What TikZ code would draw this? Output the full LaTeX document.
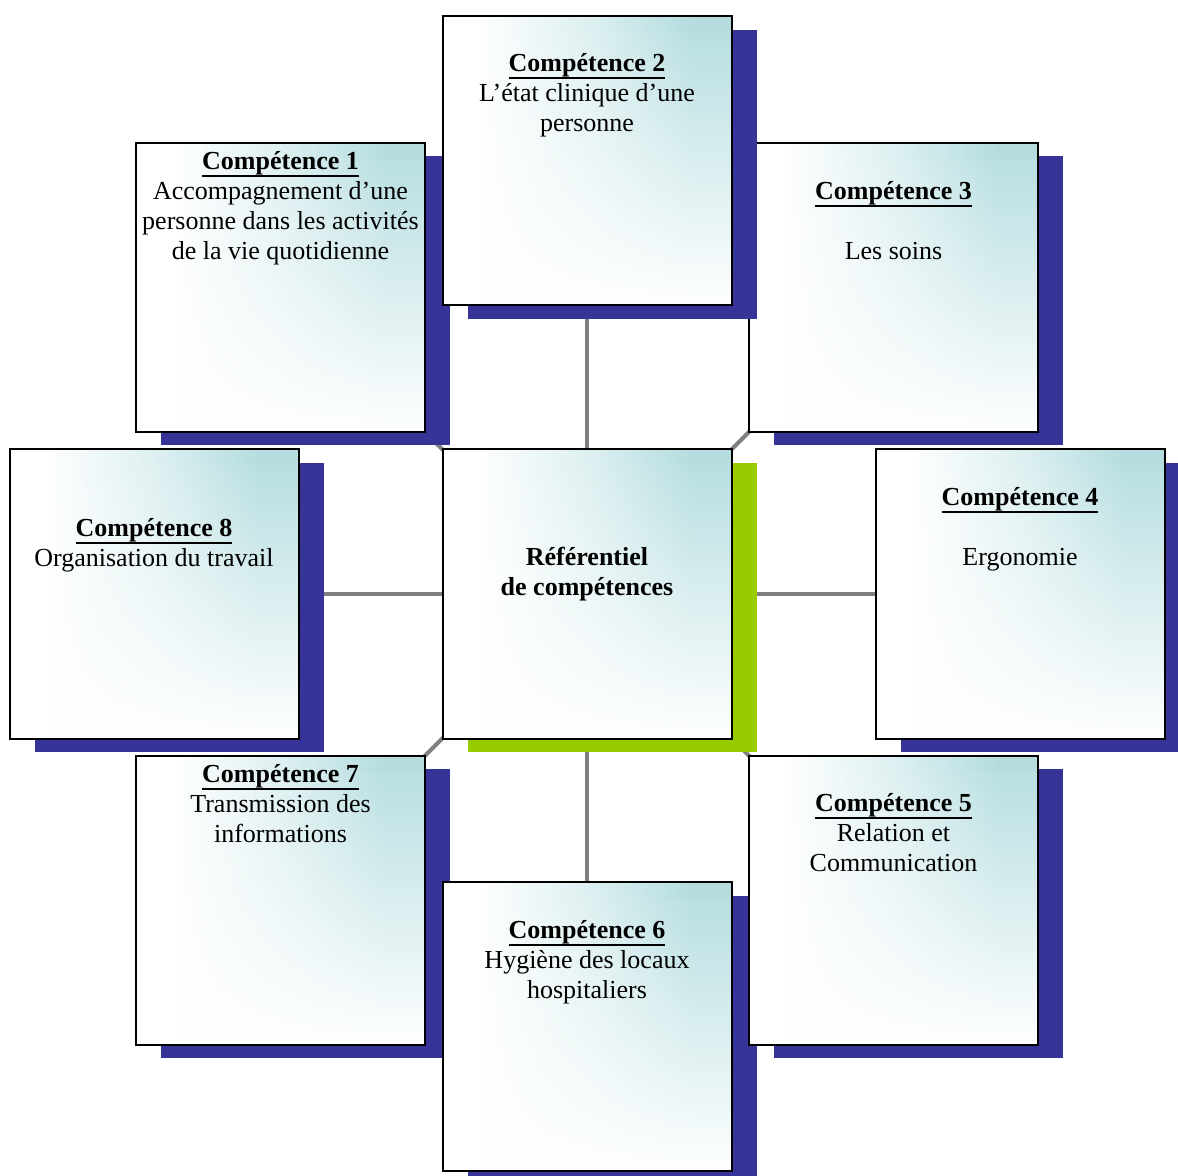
\documentclass[tikz,border=0pt]{standalone}
\usepackage{fontspec}
\setmainfont{Liberation Serif}
\usetikzlibrary{shadows,fadings}
\definecolor{shadowblue}{RGB}{54,52,153}
\definecolor{shadowgreen}{RGB}{153,204,0}
\definecolor{tealc}{RGB}{181,221,224}
\definecolor{linkgray}{RGB}{128,128,128}
\pgfdeclarehorizontalshading{boxshade}{100bp}{color(0bp)=(white); color(25bp)=(white); color(31bp)=(white); color(50bp)=(tealc!45); color(68bp)=(tealc); color(100bp)=(tealc)}
\tikzfading[name=fadebottom, top color=transparent!100, middle color=transparent!55, bottom color=transparent!0]
\tikzset{
  card/.style={draw=black, line width=1pt, minimum width=144.5pt, minimum height=144.5pt,
    inner sep=0pt, shading=boxshade,
    path picture={\fill[white, path fading=fadebottom]
      ([yshift=-8pt]path picture bounding box.north west) rectangle (path picture bounding box.south east);}},
  bluecard/.style={card, general shadow={fill=shadowblue, shadow xshift=12.5pt, shadow yshift=-6.75pt}},
  greencard/.style={card, general shadow={fill=shadowgreen, shadow xshift=12.5pt, shadow yshift=-6.75pt}},
  label/.style={anchor=north, align=center, inner sep=0pt, font=\fontsize{13}{15}\selectfont},
  link/.style={draw=linkgray, line width=2pt}
}
\newcommand{\ctitle}[1]{{\setbox0\hbox{\textbf{#1}}\rlap{\rule[-3.8pt]{\wd0}{1.2pt}}\box0}}
\begin{document}
\begin{tikzpicture}[x=0.5pt, y=-0.5pt]
\useasboundingbox (0,0) rectangle (1178,1176);
% anchor points for links (box centres)
\coordinate (p1) at (280.5,287.5);
\coordinate (p2) at (587,161);
\coordinate (p3) at (893.5,287.5);
\coordinate (p4) at (1020,594);
\coordinate (p5) at (893.5,900);
\coordinate (p6) at (587,1026.5);
\coordinate (p7) at (280.5,900);
\coordinate (p8) at (154,594);
\coordinate (pc) at (587,594);
\foreach \i in {1,...,8} { \draw[link] (pc) -- (p\i); }
% boxes
\node[bluecard] (b3) at (p3) {};
\node[bluecard] (b1) at (p1) {};
\node[bluecard] (b2) at (p2) {};
\node[bluecard] (b8) at (p8) {};
\node[bluecard] (b4) at (p4) {};
\node[greencard] (bc) at (pc) {};
\node[bluecard] (b7) at (p7) {};
\node[bluecard] (b6) at (p6) {};
\node[bluecard] (b5) at (p5) {};
% texts
\node[label] (t1) at (280.5,148) {\strut\ctitle{Compétence 1}\\Accompagnement d’une\\personne dans les activités\\de la vie quotidienne};
\node[label] (t2) at (587,50) {\strut\ctitle{Compétence 2}\\L’état clinique d’une\\personne};
\node[label] (t3) at (893.5,178) {\strut\ctitle{Compétence 3}\\[15pt]Les soins};
\node[label] (t4) at (1020,484) {\strut\ctitle{Compétence 4}\\[15pt]Ergonomie};
\node[label] (t5) at (893.5,790) {\strut\ctitle{Compétence 5}\\Relation et\\Communication};
\node[label] (t6) at (587,917) {\strut\ctitle{Compétence 6}\\Hygiène des locaux\\hospitaliers};
\node[label] (t7) at (280.5,761) {\strut\ctitle{Compétence 7}\\Transmission des\\informations};
\node[label] (t8) at (154,515) {\strut\ctitle{Compétence 8}\\Organisation du travail};
\node[label, font=\fontsize{13}{15}\selectfont\bfseries] (tc) at (587,544) {\strut Référentiel\\de compétences};
\end{tikzpicture}
\end{document}
